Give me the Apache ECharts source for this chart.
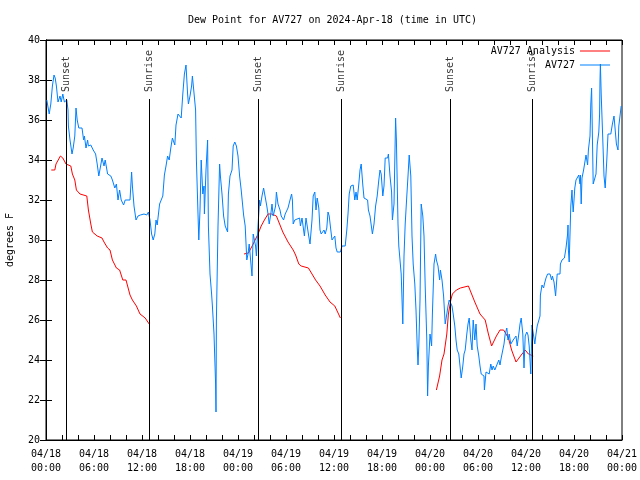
<!DOCTYPE html>
<html><head><meta charset="utf-8">
<script src="https://cdn.jsdelivr.net/npm/echarts@6/dist/echarts.min.js"></script>
<style>html,body{margin:0;padding:0;background:#fff}#c{width:640px;height:480px}</style>
</head><body><div id="c"></div>
<script>
const titleText = 'Dew Point for AV727 on 2024-Apr-18 (time in UTC)';
const yAxisName = 'degrees F';
const seriesNames = ['AV727 Analysis', 'AV727'];
// hours since 2024-04-18 00:00 UTC
const sunTimes = [2.54, 12.9, 26.54, 36.9, 50.56, 60.79];
const sunLabels = ['Sunset', 'Sunrise', 'Sunset', 'Sunrise', 'Sunset', 'Sunrise'];

const redTimes = [0.66,1.1,1.25,1.8,2.1,2.5,3.1,3.3,3.6,3.8,4.25,5.1,5.3,5.6,5.8,6.4,7.0,7.25,7.7,8.0,8.3,8.5,8.8,9.2,9.6,10.0,10.5,10.8,11.3,11.75,12.4,12.9,
  18,
  24.75,25.3,25.9,26.5,26.9,27.3,27.75,28.2,28.8,29.2,29.6,30.25,30.9,31.2,31.6,31.9,32.8,33.25,33.7,34.25,34.9,35.5,36.1,36.8,
  42,
  48.8,49.2,49.5,49.75,50.1,50.3,50.6,50.8,51.3,51.8,52.8,53.2,53.6,54.25,54.9,55.3,55.7,55.9,56.3,56.75,57.2,57.5,57.8,58.2,58.75,58.9,59.5,59.9,60.3,60.9];
const redValues = [33.5,33.5,33.8,34.2,34.1,33.8,33.7,33.3,33.0,32.5,32.3,32.2,31.5,30.8,30.4,30.2,30.1,29.9,29.6,29.5,29.0,28.9,28.6,28.5,28.0,28.0,27.25,27.0,26.7,26.3,26.1,25.8,
  null,
  29.3,29.35,29.8,30.3,30.7,31.0,31.3,31.3,31.2,30.8,30.4,29.9,29.5,29.25,28.8,28.7,28.6,28.3,28.0,27.7,27.25,26.9,26.7,26.1,
  null,
  22.5,23.2,24.0,24.3,25.3,26.3,27.0,27.3,27.5,27.6,27.7,27.3,26.9,26.3,26.0,25.3,24.7,24.7,25.2,25.5,25.5,25.3,25.1,24.5,23.9,23.9,24.3,24.5,24.3,24.2];

const blueTimes = [0.1,0.4,0.6,0.8,1.0,1.15,1.3,1.5,1.75,1.9,2.1,2.3,2.6,2.75,2.8,3.0,3.25,3.4,3.6,3.75,3.9,4.1,4.5,4.7,4.8,5.0,5.2,5.3,5.6,5.9,
  6.2,6.4,6.6,6.8,7.0,7.25,7.4,7.7,7.9,8.1,8.3,8.6,8.8,9.0,9.2,9.4,9.7,9.9,10.5,10.7,10.8,11.0,11.25,11.5,11.8,12.25,12.6,12.8,13.0,13.2,
  13.4,13.6,13.75,13.9,14.2,14.4,14.6,14.8,15.0,15.2,15.4,15.6,15.8,16.1,16.25,16.5,16.7,16.9,17.1,17.3,17.5,17.7,17.8,18.0,18.2,18.3,18.5,18.7,18.8,19.0,
  19.1,19.25,19.4,19.6,19.75,19.8,20.0,20.2,20.3,20.5,20.7,20.8,21.0,21.2,21.25,21.3,21.5,21.7,21.8,22.0,22.2,22.4,22.7,22.8,23.0,23.25,23.4,23.6,23.8,24.0,
  24.2,24.4,24.7,24.9,25.1,25.25,25.4,25.6,25.75,25.9,26.2,26.3,26.5,26.7,26.8,27.0,27.2,27.4,27.6,27.75,27.9,28.1,28.25,28.4,28.7,28.8,29.0,29.25,29.4,29.7,
  29.9,30.25,30.5,30.7,30.8,30.9,31.1,31.25,31.7,31.8,32.0,32.2,32.3,32.5,32.7,32.8,33.0,33.25,33.4,33.6,33.75,33.9,34.1,34.25,34.4,34.6,34.75,34.9,35.1,35.25,
  35.4,35.6,35.75,35.9,36.1,36.25,36.4,36.8,37.0,37.4,37.6,37.75,37.9,38.1,38.25,38.4,38.6,38.75,38.9,39.1,39.25,39.4,39.6,39.75,40.0,40.2,40.3,40.5,40.7,40.8,
  41.0,41.2,41.4,41.6,41.75,41.9,42.1,42.25,42.4,42.7,42.8,43.0,43.2,43.3,43.5,43.7,43.8,44.0,44.1,44.4,44.6,44.75,44.9,45.1,45.25,45.4,45.6,45.75,45.9,46.1,
  46.25,46.4,46.5,46.6,46.75,46.9,47.1,47.25,47.4,47.6,47.7,47.8,48.0,48.2,48.3,48.5,48.7,48.8,49.0,49.2,49.3,49.5,49.7,49.8,49.9,50.1,50.25,50.4,50.6,50.75,
  50.9,51.1,51.25,51.4,51.6,51.75,51.9,52.1,52.25,52.4,52.6,52.75,52.9,53.1,53.25,53.4,53.6,53.75,53.9,54.1,54.25,54.4,54.6,54.75,54.8,55.0,55.25,55.4,55.6,55.75,
  55.9,56.1,56.25,56.4,56.6,56.75,56.9,57.1,57.25,57.4,57.6,57.75,57.9,58.1,58.25,58.4,58.6,58.75,58.9,59.1,59.25,59.4,59.6,59.75,59.9,60.1,60.25,60.4,60.6,60.75,
  60.9,61.1,61.25,61.4,61.6,61.75,61.8,62.0,62.2,62.3,62.5,62.7,62.8,63.0,63.2,63.3,63.5,63.7,63.75,63.9,64.1,64.25,64.3,64.5,64.7,64.8,65.0,65.2,65.25,65.3,
  65.4,65.5,65.6,65.75,65.8,65.9,66.0,66.1,66.25,66.4,66.6,66.75,66.8,66.9,67.0,67.2,67.3,67.5,67.7,67.8,68.0,68.1,68.2,68.25,68.3,68.4,68.6,68.75,68.9,69.1,
  69.2,69.25,69.3,69.4,69.6,69.75,69.9,70.1,70.25,70.4,70.6,70.7,70.8,71.0,71.2,71.3,71.5,71.6,71.75,71.9];
const blueValues = [37.0,36.3,36.8,37.7,38.25,38.1,37.7,36.9,37.2,36.9,37.3,36.9,37.0,36.5,35.7,35.0,34.3,34.6,35.2,36.6,36.0,35.6,35.6,35.0,35.2,34.6,35.0,34.7,34.75,34.5,
  34.3,33.8,33.2,33.2,34.1,33.7,34.0,33.3,33.3,33.2,33.0,32.6,32.8,32.0,32.5,32.0,31.75,32.0,32.0,33.4,32.7,31.7,31.0,31.2,31.25,31.3,31.25,31.4,31.0,30.3,
  30.0,30.3,31.0,30.75,31.8,32.0,32.2,33.25,33.7,34.2,34.0,34.6,35.1,34.75,35.75,36.3,36.4,36.1,37.3,38.3,38.75,37.3,36.8,37.2,37.7,38.2,38.25,36.5,34.0,31.3,
  30.0,31.5,34.0,32.3,32.7,31.3,33.5,35.0,30.7,28.3,27.3,26.7,25.3,22.8,21.4,26.0,30.7,33.8,33.2,32.3,31.2,30.7,30.4,32.3,33.2,33.5,34.7,34.9,34.7,34.2,
  33.2,32.5,31.25,30.7,29.0,29.3,29.8,29.7,28.2,30.3,29.7,29.2,30.7,32.0,31.7,32.2,32.6,32.6,31.7,31.3,30.8,31.3,31.8,31.2,31.7,32.4,31.8,31.5,31.2,31.0,
  31.3,31.6,32.0,32.3,32.0,30.8,31.0,31.1,31.1,30.7,31.1,30.5,30.2,31.1,31.0,30.3,29.8,31.0,32.2,32.4,31.5,32.1,31.6,30.5,30.3,30.25,30.5,30.3,30.6,31.4,
  31.2,30.5,30.0,30.1,30.2,29.6,29.4,29.4,29.7,29.7,30.5,31.3,32.3,32.7,32.75,32.75,32.0,32.4,32.0,32.8,33.5,33.8,32.75,32.1,32.2,32.0,31.5,31.2,30.6,30.3,
  30.8,31.7,32.2,33.0,33.5,33.3,32.2,32.7,34.1,34.1,34.3,33.2,32.4,31.0,31.8,36.1,35.0,30.8,29.7,28.3,25.8,29.2,30.8,32.2,33.2,34.25,33.2,30.2,28.8,27.8,
  26.5,24.7,23.75,24.7,27.0,31.8,31.2,30.2,27.7,25.0,22.2,23.7,25.3,24.7,26.3,28.8,29.3,29.0,28.7,28.0,28.5,28.0,27.2,26.5,25.8,26.3,26.7,27.0,27.1,26.7,
  26.3,25.7,25.0,24.5,24.3,23.7,23.1,23.7,24.3,24.5,25.3,25.8,26.1,25.0,24.5,26.0,25.0,25.8,24.7,24.2,23.7,23.3,23.4,23.2,22.5,23.4,23.4,23.3,23.8,23.5,
  23.7,23.5,23.6,23.8,24.0,23.75,24.1,24.5,24.8,25.3,25.6,25.0,25.3,24.8,24.75,25.0,25.1,25.2,24.7,25.3,25.8,26.1,25.3,23.6,25.2,25.4,25.25,24.7,23.3,25.75,
  25.8,24.8,25.3,25.7,25.7,26.2,27.25,27.75,27.6,27.8,28.1,28.3,28.4,28.3,28.0,28.2,27.9,27.2,27.5,28.3,28.2,28.3,28.8,29.0,28.9,29.1,29.6,30.3,30.75,29.5,
  28.9,30.3,31.7,32.5,32.0,31.4,32.0,32.6,33.0,33.1,33.25,32.8,33.25,31.8,33.1,33.5,33.6,34.25,33.75,34.5,35.2,36.8,37.6,36.5,35.2,32.8,32.7,33.3,34.75,35.4,
  36.3,38.0,38.8,37.3,35.0,33.2,32.6,34.0,35.3,35.2,35.3,35.3,35.8,36.2,36.2,34.8,34.5,35.7,35.8,36.7];

const FONT = 'DejaVu Sans Mono';
const pad2 = n => (n < 10 ? '0' : '') + n;
function xLabel(v) {
  const day = 18 + Math.floor(v / 24);
  const hr = Math.round(v % 24);
  return '04/' + pad2(day) + '\n' + pad2(hr) + ':00';
}
const redData = redTimes.map((t, i) => redValues[i] == null ? [t, '-'] : [t, redValues[i]]);
const blueData = blueTimes.map((t, i) => [t, blueValues[i]]);

const chart = echarts.init(document.getElementById('c'), null, {renderer: 'canvas'});
const axisCommon = {
  type: 'value',
  axisLine: {show: true, lineStyle: {color: '#000', width: 1}},
  splitLine: {show: false}
};
chart.setOption({
  animation: false,
  backgroundColor: '#fff',
  textStyle: {fontFamily: FONT, fontSize: 10, color: '#000'},
  title: {text: titleText, left: 183, top: 10, textStyle: {fontFamily: FONT, fontSize: 10, fontWeight: 'normal', color: '#000'}},
  legend: {
    data: seriesNames, orient: 'vertical', align: 'right', right: 25, top: 40,
    icon: 'rect', itemWidth: 30, itemHeight: 1, itemGap: 2,
    textStyle: {fontFamily: FONT, fontSize: 10, color: '#000', lineHeight: 12}
  },
  grid: {left: 46, right: 18, top: 40, bottom: 40, containLabel: false, outerBoundsMode: 'none',
    show: true, borderColor: '#000', borderWidth: 1},
  xAxis: [
    Object.assign({}, axisCommon, {
      min: 0, max: 72, interval: 6, position: 'bottom',
      axisTick: {show: true, inside: true, length: 5, lineStyle: {color: '#000'}},
      minorTick: {show: true, splitNumber: 3, length: 5, lineStyle: {color: '#000'}},
      axisLabel: {formatter: xLabel, margin: 7, lineHeight: 14, fontFamily: FONT, fontSize: 10, color: '#000'}
    }),
    Object.assign({}, axisCommon, {
      min: 0, max: 72, interval: 6, position: 'top',
      axisTick: {show: true, inside: true, length: 5, lineStyle: {color: '#000'}},
      minorTick: {show: true, splitNumber: 3, length: 5, lineStyle: {color: '#000'}},
      axisLabel: {show: false}
    })
  ],
  yAxis: [
    Object.assign({}, axisCommon, {
      min: 20, max: 40, interval: 2, position: 'left',
      axisTick: {show: true, inside: true, length: 6, lineStyle: {color: '#000'}},
      axisLabel: {margin: 6, fontFamily: FONT, fontSize: 10, color: '#000'},
      name: yAxisName, nameLocation: 'middle', nameGap: 31, nameRotate: 90,
      nameTextStyle: {fontFamily: FONT, fontSize: 10, color: '#000'}
    }),
    Object.assign({}, axisCommon, {
      min: 20, max: 40, interval: 2, position: 'right',
      axisTick: {show: true, inside: true, length: 6, lineStyle: {color: '#000'}},
      axisLabel: {show: false}
    })
  ],
  series: [
    {
      name: seriesNames[0], type: 'line', data: redData, showSymbol: false, symbol: 'none',
      connectNulls: false, color: '#ff0000', lineStyle: {color: '#ff0000', width: 1}, z: 3
    },
    {
      name: seriesNames[1], type: 'line', data: blueData, showSymbol: false, symbol: 'none',
      color: '#0080ff', lineStyle: {color: '#0080ff', width: 1}, z: 4
    },
    {
      name: 'sun', type: 'scatter', symbolSize: 0, z: 5, silent: true,
      data: sunTimes.map(t => [t, 37.4]),
      label: {
        show: true, position: 'inside', rotate: 90, align: 'left', verticalAlign: 'middle',
        formatter: p => sunLabels[p.dataIndex], fontFamily: FONT, fontSize: 10, color: '#000'
      },
      markLine: {
        silent: true, symbol: 'none', animation: false,
        lineStyle: {color: '#000', width: 1, type: 'solid'},
        label: {show: false},
        data: sunTimes.map(t => [{coord: [t, 20]}, {coord: [t, 37.05]}])
      }
    }
  ]
});
</script></body></html>
